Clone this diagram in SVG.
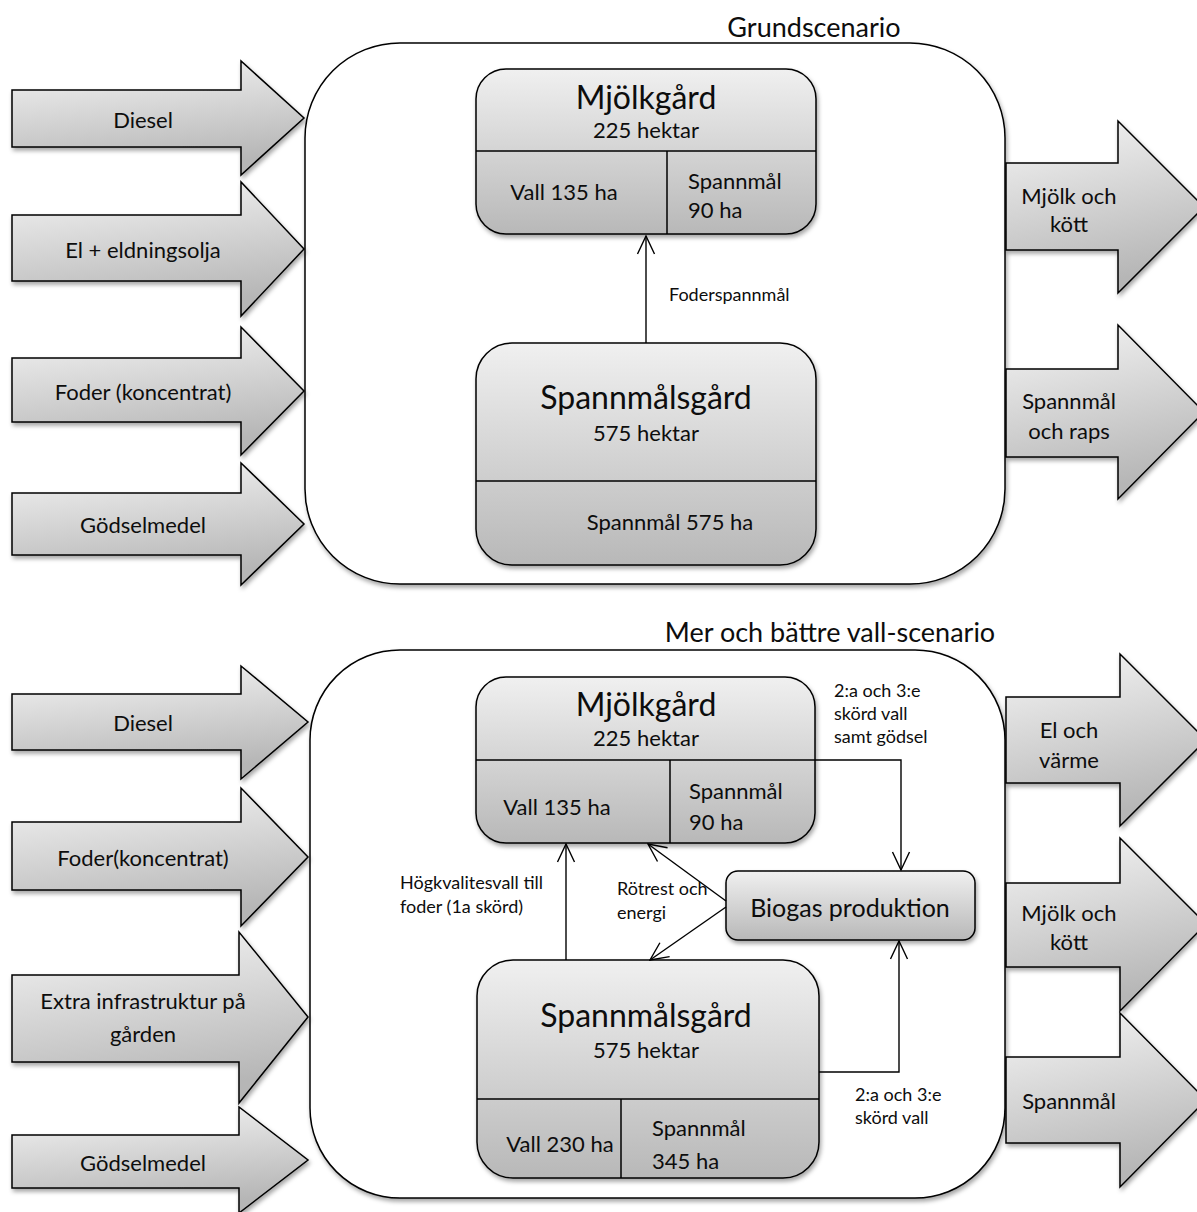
<svg xmlns="http://www.w3.org/2000/svg" width="1197" height="1212" viewBox="0 0 1197 1212">
<defs>
<linearGradient id="gArrow" x1="0" y1="0" x2="0.25" y2="1">
<stop offset="0" stop-color="#f5f5f5"/>
<stop offset="1" stop-color="#b6b6b6"/>
</linearGradient>
<linearGradient id="gBox" x1="0" y1="0" x2="0" y2="1">
<stop offset="0" stop-color="#f0f0f0"/>
<stop offset="1" stop-color="#b8b8b8"/>
</linearGradient>
<filter id="sh" x="-10%" y="-10%" width="125%" height="130%">
<feDropShadow dx="1.5" dy="3" stdDeviation="2" flood-color="#000" flood-opacity="0.35"/>
</filter>
<marker id="open" viewBox="0 0 20 20" refX="19" refY="10" markerWidth="20" markerHeight="20" markerUnits="userSpaceOnUse" orient="auto">
<path d="M1,1.5 L19,10 L1,18.5" fill="none" stroke="#000" stroke-width="1.4"/>
</marker>
<style>
.arr{fill:url(#gArrow);stroke:#000;stroke-width:1.5;filter:url(#sh)}
.box{fill:url(#gBox);stroke:#000;stroke-width:1.5;filter:url(#sh)}
.cont{fill:#fff;stroke:#000;stroke-width:1.5;filter:url(#sh)}
.div{stroke:#000;stroke-width:1.5;fill:none}
.con{stroke:#000;stroke-width:1.4;fill:none}
text{font-family:Lato,"Open Sans","Liberation Sans",sans-serif;fill:#0d0d0d}
.t20{font-size:22px}
.t19{font-size:22px}
.title{font-size:32px}
.bio{font-size:25px}
.lbl{font-size:18px}
.head{font-size:27px}
.c{text-anchor:middle}
.m{dominant-baseline:central}
</style>
</defs>

<text class="head c m" x="814" y="26">Grundscenario</text>
<text class="head c m" x="830" y="631">Mer och bättre vall-scenario</text>

<g id="container-grund"><rect class="cont" x="305" y="43" width="700" height="541" rx="95" ry="95"/></g>
<g id="container-vall"><rect class="cont" x="310" y="650" width="695" height="548" rx="90" ry="90"/></g>

<!-- Top scenario inputs -->
<g id="in-diesel-1"><polygon class="arr" points="12,90 241,90 241,61 304,118 241,175 241,147 12,147"/><text class="t20 c m" x="143" y="119">Diesel</text></g>
<g id="in-el-1"><polygon class="arr" points="12,215 241,215 241,182 304,249 241,316 241,281 12,281"/><text class="t20 c m" x="143" y="249">El + eldningsolja</text></g>
<g id="in-foder-1"><polygon class="arr" points="12,358 241,358 241,327 304,391 241,455 241,422 12,422"/><text class="t20 c m" x="143" y="391">Foder (koncentrat)</text></g>
<g id="in-godsel-1"><polygon class="arr" points="12,493 241,493 241,463 304,524 241,585 241,555 12,555"/><text class="t20 c m" x="143" y="524">Gödselmedel</text></g>

<!-- Top scenario outputs -->
<g id="out-mjolk-1"><polygon class="arr" points="1006,163 1118,163 1118,121 1204,207 1118,293 1118,250 1006,250"/><text class="t19 c m" x="1069" y="195">Mjölk och</text><text class="t19 c m" x="1069" y="223">kött</text></g>
<g id="out-spannmal-1"><polygon class="arr" points="1006,369 1118,369 1118,325 1204,412 1118,499 1118,457 1006,457"/><text class="t19 c m" x="1069" y="400">Spannmål</text><text class="t19 c m" x="1069" y="430">och raps</text></g>

<!-- Top scenario nodes -->
<g id="mjolkgard-1">
<rect class="box" x="476" y="69" width="340" height="165" rx="30" ry="30"/>
<line class="div" x1="476" y1="151" x2="816" y2="151"/>
<line class="div" x1="667" y1="151" x2="667" y2="234"/>
<text class="title c m" x="646" y="96">Mjölkgård</text>
<text class="t20 c m" x="646" y="129">225 hektar</text>
<text class="t20 c m" x="564" y="191">Vall 135 ha</text>
<text class="t20 m" x="688" y="180">Spannmål</text>
<text class="t20 m" x="688" y="209">90 ha</text>
</g>
<g id="spannmalsgard-1">
<rect class="box" x="476" y="343" width="340" height="222" rx="36" ry="36"/>
<line class="div" x1="476" y1="481" x2="816" y2="481"/>
<text class="title c m" x="646" y="396">Spannmålsgård</text>
<text class="t20 c m" x="646" y="432">575 hektar</text>
<text class="t20 c m" x="670" y="521">Spannmål 575 ha</text>
</g>

<!-- Bottom scenario inputs -->
<g id="in-diesel-2"><polygon class="arr" points="12,694 241,694 241,666 308,722 241,779 241,750 12,750"/><text class="t20 c m" x="143" y="722">Diesel</text></g>
<g id="in-foder-2"><polygon class="arr" points="12,822 241,822 241,788 308,857 241,926 241,890 12,890"/><text class="t20 c m" x="143" y="857">Foder(koncentrat)</text></g>
<g id="in-extra-2"><polygon class="arr" points="12,975 239,975 239,932 308,1017 239,1103 239,1062 12,1062"/><text class="t20 c m" x="143" y="1000">Extra infrastruktur på</text><text class="t20 c m" x="143" y="1033">gården</text></g>
<g id="in-godsel-2"><polygon class="arr" points="12,1135 239,1135 239,1107 308,1160 239,1213 239,1188 12,1188"/><text class="t20 c m" x="143" y="1162">Gödselmedel</text></g>

<!-- Bottom scenario outputs -->
<g id="out-el-2"><polygon class="arr" points="1006,697 1120,697 1120,654 1206,740 1120,826 1120,783 1006,783"/><text class="t19 c m" x="1069" y="729">El och</text><text class="t19 c m" x="1069" y="759">värme</text></g>
<g id="out-mjolk-2"><polygon class="arr" points="1006,883 1120,883 1120,838 1206,924 1120,1011 1120,967 1006,967"/><text class="t19 c m" x="1069" y="912">Mjölk och</text><text class="t19 c m" x="1069" y="941">kött</text></g>
<g id="out-spannmal-2"><polygon class="arr" points="1006,1057 1120,1057 1120,1013 1206,1100 1120,1187 1120,1143 1006,1143"/><text class="t19 c m" x="1069" y="1100">Spannmål</text></g>

<!-- Bottom scenario nodes -->
<g id="mjolkgard-2">
<rect class="box" x="476" y="677" width="339" height="166" rx="30" ry="30"/>
<line class="div" x1="476" y1="760" x2="815" y2="760"/>
<line class="div" x1="670" y1="760" x2="670" y2="843"/>
<text class="title c m" x="646" y="703">Mjölkgård</text>
<text class="t20 c m" x="646" y="737">225 hektar</text>
<text class="t20 c m" x="557" y="806">Vall 135 ha</text>
<text class="t20 m" x="689" y="790">Spannmål</text>
<text class="t20 m" x="689" y="821">90 ha</text>
</g>
<g id="biogas">
<rect class="box" x="726" y="871" width="249" height="69" rx="12" ry="12"/>
<text class="bio c m" x="850" y="907">Biogas produktion</text>
</g>
<g id="spannmalsgard-2">
<rect class="box" x="477" y="960" width="342" height="218" rx="36" ry="36"/>
<line class="div" x1="477" y1="1099" x2="819" y2="1099"/>
<line class="div" x1="621" y1="1099" x2="621" y2="1178"/>
<text class="title c m" x="646" y="1014">Spannmålsgård</text>
<text class="t20 c m" x="646" y="1049">575 hektar</text>
<text class="t20 c m" x="560" y="1143">Vall 230 ha</text>
<text class="t20 m" x="652" y="1127">Spannmål</text>
<text class="t20 m" x="652" y="1160">345 ha</text>
</g>

<!-- Connectors -->
<g id="connectors">
<line class="con" x1="646" y1="343" x2="646" y2="236" marker-end="url(#open)"/>
<line class="con" x1="566" y1="960" x2="566" y2="844" marker-end="url(#open)"/>
<line class="con" x1="726" y1="901" x2="648" y2="844" marker-end="url(#open)"/>
<line class="con" x1="726" y1="907" x2="650" y2="960" marker-end="url(#open)"/>
<polyline class="con" points="815,760 901,760 901,870" marker-end="url(#open)"/>
<polyline class="con" points="819,1072 899,1072 899,941" marker-end="url(#open)"/>
</g>

<!-- Connector labels -->
<g id="connector-labels">
<text class="lbl m" x="669" y="294">Foderspannmål</text>
<text class="lbl m" x="834" y="690">2:a och 3:e</text>
<text class="lbl m" x="834" y="713">skörd vall</text>
<text class="lbl m" x="834" y="736">samt gödsel</text>
<text class="lbl m" x="400" y="882">Högkvalitesvall till</text>
<text class="lbl m" x="400" y="906">foder (1a skörd)</text>
<text class="lbl m" x="617" y="888">Rötrest och</text>
<text class="lbl m" x="617" y="912">energi</text>
<text class="lbl m" x="855" y="1094">2:a och 3:e</text>
<text class="lbl m" x="855" y="1117">skörd vall</text>
</g>
</svg>
